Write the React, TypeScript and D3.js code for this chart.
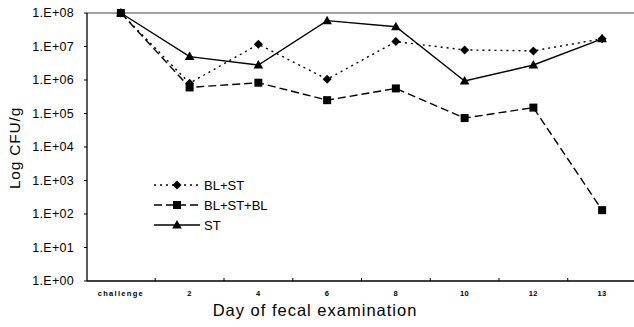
import React from "react";
import * as d3 from "d3";

const categories = ["challenge", "2", "4", "6", "8", "10", "12", "13"];
const blSt = [1e8, 8e5, 1.17e7, 1.05e6, 1.4e7, 7.9e6, 7.4e6, 1.7e7];
const blStBl = [1e8, 6e5, 8.3e5, 2.5e5, 5.6e5, 7.3e4, 1.5e5, 1.3e2];
const st = [1e8, 5e6, 2.8e6, 5.9e7, 3.9e7, 9.3e5, 2.8e6, 1.7e7];
const yTicks = [1, 10, 100, 1e3, 1e4, 1e5, 1e6, 1e7, 1e8];
const yTickLabels = ["1.E+00", "1.E+01", "1.E+02", "1.E+03", "1.E+04", "1.E+05", "1.E+06", "1.E+07", "1.E+08"];
const seriesNames = ["BL+ST", "BL+ST+BL", "ST"];

const W = 634, H = 327;
const left = 87, top = 13, bottom = 281, right = 636.5;

export default function App() {
  const x = d3.scalePoint<string>().domain(categories).range([left - 0.5, right]).padding(0.5);
  const y = d3.scaleLog().domain([1, 1e8]).range([bottom, top]);
  const line = d3.line<number>().x((_, i) => x(categories[i])!).y(d => y(d));

  const series = [
    { name: seriesNames[0], data: blSt, dash: "2,4", marker: "diamond" },
    { name: seriesNames[1], data: blStBl, dash: "8,4", marker: "square" },
    { name: seriesNames[2], data: st, dash: "", marker: "triangle" },
  ];

  const marker = (type: string, cx: number, cy: number, key: string | number) => {
    if (type === "diamond") {
      const s = 4.5;
      return <path key={key} d={`M${cx},${cy - s}L${cx + s},${cy}L${cx},${cy + s}L${cx - s},${cy}Z`} fill="#000" />;
    }
    if (type === "square") {
      return <rect key={key} x={cx - 4} y={cy - 4} width={8} height={8} fill="#000" />;
    }
    return <path key={key} d={`M${cx},${cy - 5}L${cx + 4.8},${cy + 3.5}L${cx - 4.8},${cy + 3.5}Z`} fill="#000" />;
  };

  const step = x.step();
  const font = "'Liberation Sans', Arial, sans-serif";

  return (
    <svg width={W} height={H} style={{ position: "absolute", left: 0, top: 0, background: "#fff" }} fontFamily={font}>
      <rect width={W} height={H} fill="#fff" />
      <line x1={left} x2={W} y1={top} y2={top} stroke="#444" strokeWidth={1} />
      <line x1={left} x2={left} y1={top} y2={bottom} stroke="#000" strokeWidth={1.3} />
      <line x1={left} x2={W} y1={bottom} y2={bottom} stroke="#000" strokeWidth={1.3} />
      {yTicks.map((t, i) => (
        <g key={t}>
          <line x1={left - 3} x2={left} y1={y(t)} y2={y(t)} stroke="#000" />
          <text x={74} y={y(t)} dy="0.35em" textAnchor="end" fontSize={12.5} letterSpacing={0.3}>{yTickLabels[i]}</text>
        </g>
      ))}
      {categories.slice(1).map((c) => (
        <line key={c} x1={x(c)! - step / 2} x2={x(c)! - step / 2} y1={bottom} y2={bottom - 3} stroke="#000" />
      ))}
      {categories.map(c => (
        <text key={c} x={x(c)!} y={296} textAnchor="middle" fontSize={7.5} fontWeight="bold" letterSpacing={c === "challenge" ? 1.3 : 0.5}>{c}</text>
      ))}
      <text x={315} y={316} textAnchor="middle" fontSize={16.5} letterSpacing={1}>Day of fecal examination</text>
      <text transform={`translate(20,148) rotate(-90)`} textAnchor="middle" fontSize={15.5} letterSpacing={0.8}>Log CFU/g</text>

      {series.map(s => (
        <g key={s.name}>
          <path d={line(s.data)!} fill="none" stroke="#000" strokeWidth={1.4} strokeDasharray={s.dash} />
          {s.data.map((v, i) => marker(s.marker, x(categories[i])!, y(v), i))}
        </g>
      ))}

      {series.map((s, i) => {
        const ly = 185 + i * 20;
        return (
          <g key={"lg" + s.name}>
            <line x1={154} x2={200} y1={ly} y2={ly} stroke="#000" strokeWidth={1.4} strokeDasharray={s.dash} />
            {marker(s.marker, 177, ly, "m")}
            <text x={204} y={ly} dy="0.35em" fontSize={13}>{s.name}</text>
          </g>
        );
      })}
    </svg>
  );
}
